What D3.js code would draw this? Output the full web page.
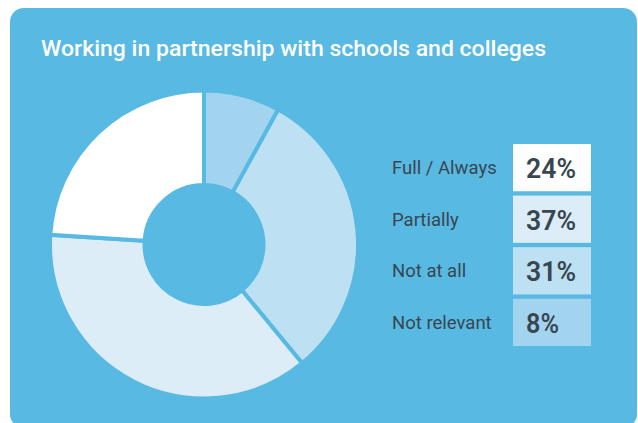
<!DOCTYPE html>
<html>
<head>
<meta charset="utf-8">
<script src="https://cdn.jsdelivr.net/npm/d3@7"></script>
<style>
  html, body { margin: 0; padding: 0; background: #ffffff; }
  svg { display: block; }
</style>
</head>
<body>
<svg id="chart" width="638" height="423"></svg>
<script>
// Survey responses, in legend order
const categories = ["Full / Always", "Partially", "Not at all", "Not relevant"];
const shares = [24, 37, 31, 8];
const sliceColors = ["#ffffff", "#ddedf8", "#bde0f3", "#a3d4ef"];
const title = "Working in partnership with schools and colleges";

const bg = "#58b9e3";
const ink = "#38464f";

const svg = d3.select("#chart");

// Card
svg.append("rect")
  .attr("x", 10).attr("y", 8)
  .attr("width", 627).attr("height", 420)
  .attr("rx", 14).attr("ry", 14)
  .attr("fill", bg);

// Title
svg.append("text")
  .attr("x", 41).attr("y", 55.5)
  .attr("fill", "#ffffff")
  .attr("font-family", "Roboto, 'Noto Sans', sans-serif")
  .attr("font-weight", 500)
  .attr("font-size", 22)
  .attr("textLength", 505)
  .attr("lengthAdjust", "spacingAndGlyphs")
  .text(title);

// Donut: drawn clockwise from 12 o'clock, starting with the last legend entry
const rows = categories.map((c, i) => ({ category: c, value: shares[i], color: sliceColors[i] }));
const pieOrder = rows.slice().reverse();

const pie = d3.pie().sort(null).value(d => d.value);
const arc = d3.arc().innerRadius(59.5).outerRadius(154);

const donut = svg.append("g").attr("transform", "translate(204,244.5)");
donut.selectAll("path")
  .data(pie(pieOrder))
  .join("path")
  .attr("d", arc)
  .attr("fill", d => d.data.color)
  .attr("stroke", bg)
  .attr("stroke-width", 4)
  .attr("stroke-linejoin", "miter");

// Legend with value boxes
const y = d3.scaleBand()
  .domain(categories)
  .range([144, 346])
  .paddingInner(0.084)
  .paddingOuter(0);

const legend = svg.append("g");
const row = legend.selectAll("g")
  .data(rows)
  .join("g")
  .attr("transform", d => `translate(0,${y(d.category)})`);

row.append("rect")
  .attr("x", 513)
  .attr("y", 0)
  .attr("width", 78)
  .attr("height", y.bandwidth())
  .attr("fill", d => d.color);

row.append("text")
  .attr("x", 392)
  .attr("y", y.bandwidth() / 2 + 6.5)
  .attr("fill", ink)
  .attr("font-family", "Roboto, 'Noto Sans', sans-serif")
  .attr("font-size", 18.5)
  .text(d => d.category);

row.append("text")
  .attr("x", 526)
  .attr("y", y.bandwidth() / 2 + 10.5)
  .attr("fill", ink)
  .attr("font-family", "Roboto, 'Noto Sans', sans-serif")
  .attr("font-weight", 600)
  .attr("font-size", 28)
  .attr("textLength", d => d.value >= 10 ? 50 : 33)
  .attr("lengthAdjust", "spacingAndGlyphs")
  .text(d => d.value + "%");
</script>
</body>
</html>
